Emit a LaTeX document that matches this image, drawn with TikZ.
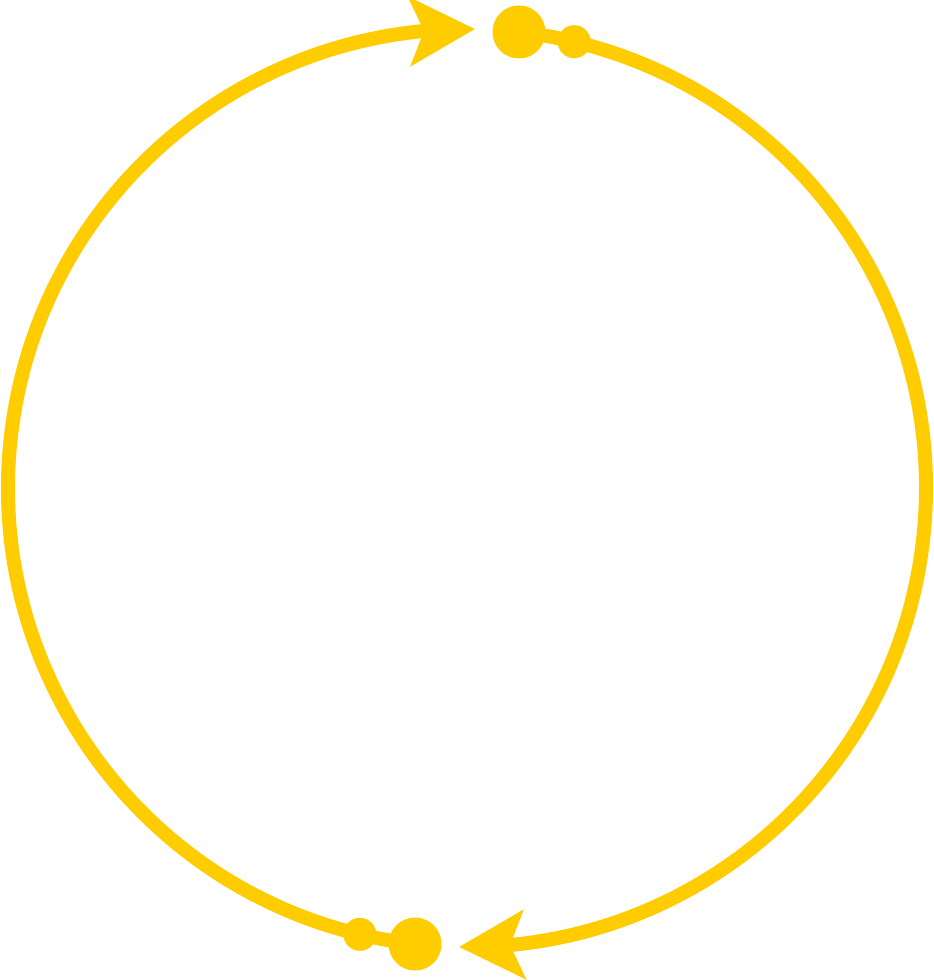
\documentclass[tikz,border=0pt]{standalone}
\usepackage{xcolor}
\usetikzlibrary{arrows.meta,bending}
\definecolor{ringyellow}{RGB}{255,204,0}
\tikzset{
  ring/.style = {line width=14pt, draw=ringyellow, -{Stealth[length=65pt, width=68pt, inset=14pt]}},
  bigdot/.style = {circle, fill=ringyellow, inner sep=0pt, minimum size=53pt},
  smalldot/.style = {circle, fill=ringyellow, inner sep=0pt, minimum size=33pt}
}

\begin{document}
\begin{tikzpicture}[x=1pt,y=1pt]
	\useasboundingbox (-467,-492) rectangle (467,488);

	\node (topbig) [bigdot] at (83.5:459) {};
	\node (topsmall) [smalldot] at (76.5:459) {};
	\node (botbig) [bigdot] at (263.5:459) {};
	\node (botsmall) [smalldot] at (256.5:459) {};

	\draw [ring] (botbig.center) arc[start angle=263.5, end angle=89, radius=459];
	\draw [ring] (topbig.center) arc[start angle=83.5, end angle=-91, radius=459];

\end{tikzpicture}
\end{document}
